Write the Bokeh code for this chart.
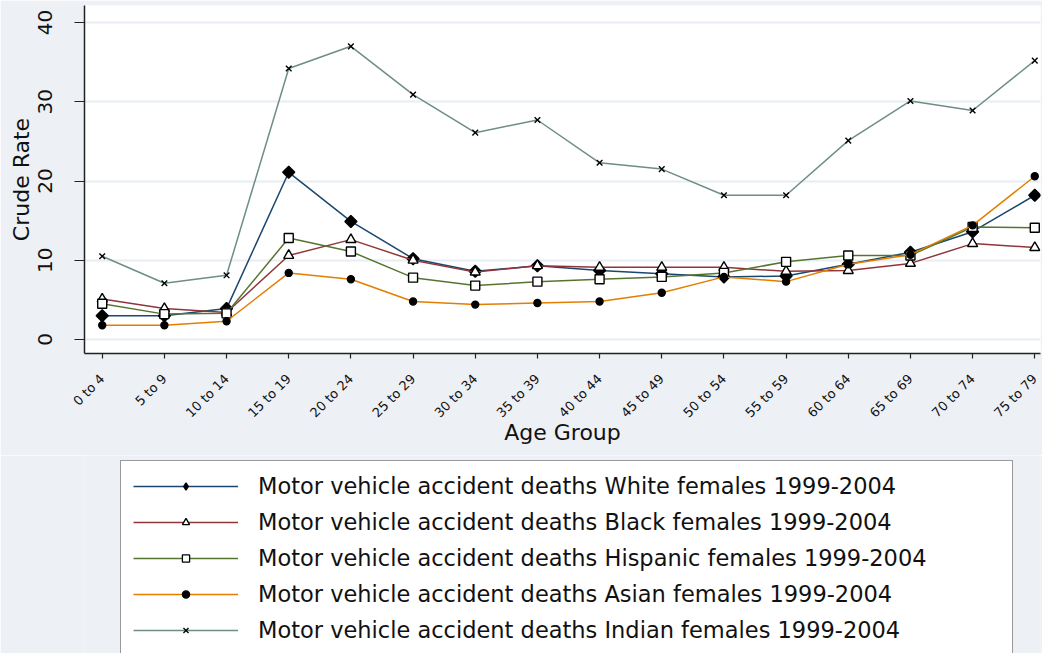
import math
from bokeh.plotting import figure
from bokeh.layouts import column
from bokeh.models import Range1d, FixedTicker, Legend, LegendItem
from bokeh.embed import file_html
from bokeh.resources import INLINE

categories = ["0 to 4", "5 to 9", "10 to 14", "15 to 19", "20 to 24", "25 to 29",
              "30 to 34", "35 to 39", "40 to 44", "45 to 49", "50 to 54", "55 to 59",
              "60 to 64", "65 to 69", "70 to 74", "75 to 79"]

white = [3.0, 3.0, 3.9, 21.1, 14.9, 10.2, 8.6, 9.3, 8.7, 8.3, 7.9, 8.0, 9.5, 11.0, 13.6, 18.2]
black = [5.1, 3.9, 3.4, 10.6, 12.6, 10.0, 8.5, 9.3, 9.1, 9.1, 9.1, 8.6, 8.7, 9.6, 12.1, 11.6]
hispanic = [4.5, 3.2, 3.3, 12.8, 11.1, 7.8, 6.8, 7.3, 7.6, 7.9, 8.4, 9.8, 10.6, 10.6, 14.2, 14.1]
asian = [1.8, 1.8, 2.3, 8.4, 7.6, 4.8, 4.4, 4.6, 4.8, 5.9, 7.9, 7.3, 9.5, 10.7, 14.4, 20.6]
indian = [10.5, 7.1, 8.1, 34.2, 37.0, 30.9, 26.1, 27.7, 22.3, 21.5, 18.2, 18.2, 25.1, 30.1, 28.9, 35.2]

series_names = [
    "Motor vehicle accident deaths White females 1999-2004",
    "Motor vehicle accident deaths Black females 1999-2004",
    "Motor vehicle accident deaths Hispanic females 1999-2004",
    "Motor vehicle accident deaths Asian females 1999-2004",
    "Motor vehicle accident deaths Indian females 1999-2004",
]
y_ticks = [0, 10, 20, 30, 40]

BG = "#edf0f5"
FONT = "DejaVu Sans"
W = 1042
H_MAIN = 455
H_LEG = 198

x = list(range(len(categories)))

p = figure(width=W, height=H_MAIN, output_backend="svg", toolbar_location=None,
           x_range=Range1d(-0.285, 15.092), y_range=Range1d(-1.77, 42.15),
           min_border_left=84, min_border_right=2, min_border_top=5,
           min_border_bottom=H_MAIN - 353,
           background_fill_color="white", border_fill_color=BG, outline_line_color=None)

p.xgrid.visible = False
p.ygrid.grid_line_color = "#e8edf3"
p.ygrid.grid_line_width = 2

# y axis
p.yaxis.ticker = FixedTicker(ticks=y_ticks)
p.yaxis.major_label_orientation = "vertical"
p.yaxis.major_label_text_font = FONT
p.yaxis.major_label_text_font_size = "20px"
p.yaxis.major_label_text_color = "#111"
p.yaxis.major_label_standoff = 22
p.yaxis.major_tick_out = 10
p.yaxis.major_tick_in = 0
p.yaxis.minor_tick_line_color = None
p.yaxis.axis_label = "Crude Rate"
p.yaxis.axis_label_text_font = FONT
p.yaxis.axis_label_text_font_size = "22px"
p.yaxis.axis_label_text_font_style = "normal"
p.yaxis.axis_label_text_color = "#111"
p.yaxis.axis_label_standoff = 2

# x axis
p.xaxis.ticker = FixedTicker(ticks=x)
p.xaxis.major_label_overrides = {i: c for i, c in enumerate(categories)}
p.xaxis.major_label_orientation = math.pi / 4
p.xaxis.major_label_text_font = FONT
p.xaxis.major_label_text_font_size = "13px"
p.xaxis.major_label_text_color = "#111"
p.xaxis.major_label_standoff = 18
p.xaxis.major_tick_out = 5
p.xaxis.major_tick_in = 0
p.xaxis.minor_tick_line_color = None
p.xaxis.axis_label = "Age Group"
p.xaxis.axis_label_text_font = FONT
p.xaxis.axis_label_text_font_size = "22px"
p.xaxis.axis_label_text_font_style = "normal"
p.xaxis.axis_label_text_color = "#111"
p.xaxis.axis_label_standoff = -9

for ax in (p.xaxis, p.yaxis):
    ax.axis_line_color = "#222"
    ax.axis_line_width = 1.5
    ax.major_tick_line_color = "#222"
    ax.major_tick_line_width = 1.2

# (values, line colour, chart marker, size, fill, angle, legend marker)
styles = [
    (white, "#1a476f", "square", 8.5, "black", math.pi / 4, "diamond"),
    (black, "#90353b", "triangle", 10, "white", 0.0, "triangle"),
    (hispanic, "#55752f", "square", 9, "white", 0.0, "square"),
    (asian, "#e37e00", "circle", 7, "black", 0.0, "circle"),
    (indian, "#6e8e84", "x", 8, "black", 0.0, "x"),
]

# legend figure below the chart; its ranges keep the proxy series out of view
pl = figure(width=W, height=H_LEG, output_backend="svg", toolbar_location=None,
            x_range=Range1d(100, 101), y_range=Range1d(100, 101),
            x_axis_type=None, y_axis_type=None,
            min_border_left=0, min_border_right=0, min_border_top=0, min_border_bottom=0,
            background_fill_color=BG, border_fill_color=BG, outline_line_color=None)
pl.xgrid.visible = False
pl.ygrid.visible = False

items = []
for name, (vals, color, marker, size, fill, ang, lmarker) in zip(series_names, styles):
    p.line(x, vals, line_color=color, line_width=1.5)
    p.scatter(x, vals, marker=marker, size=size, angle=ang, line_color="black",
              fill_color=fill, line_width=1.4)
    ll = pl.line(x, vals, line_color=color, line_width=1.5)
    ls = pl.scatter(x, vals, marker=lmarker, size=size, line_color="black",
                    fill_color=fill, line_width=1.3)
    items.append(LegendItem(label=name, renderers=[ll, ls]))

legend = Legend(items=items, location=(36, -3),
                glyph_width=105, glyph_height=18, label_height=18,
                label_width=742, label_standoff=20, spacing=10, padding=12,
                label_text_font=FONT, label_text_font_size="22.5px",
                label_text_color="#111",
                border_line_color="#333", border_line_width=1.5,
                background_fill_color="white", background_fill_alpha=1.0)
pl.add_layout(legend, "center")

layout = column(p, pl, spacing=0)
open("out.html", "w").write(file_html(layout, INLINE))
